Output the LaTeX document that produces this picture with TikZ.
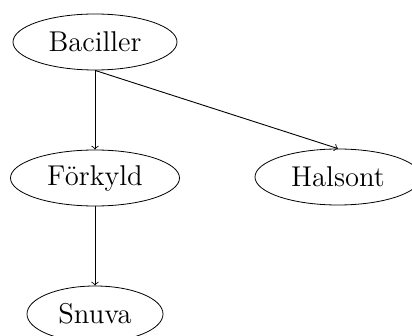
\documentclass[tikz,border=0pt]{standalone}
\usetikzlibrary{shapes.geometric}
\begin{document}
\begin{tikzpicture}[x=0.5pt,y=-0.5pt,
  nd/.style={draw,ellipse,inner sep=0pt,minimum height=28pt,font=\fontsize{14.3}{16}\selectfont},
  arr/.style={->,line width=0.45pt}]
\useasboundingbox (0,0) rectangle (412,336);
\node[nd,minimum width=82pt] (b) at (95,42) {Baciller};
\node[nd,minimum width=84.5pt] (f) at (95,178) {Förkyld};
\node[nd,minimum width=83pt] (h) at (338,177) {Halsont};
\node[nd,minimum width=68pt] (s) at (95,314) {Snuva};
\draw[arr] (b.south) -- (f.north);
\draw[arr] (b.south) -- (h.north);
\draw[arr] (f.south) -- (s.north);
\end{tikzpicture}
\end{document}
